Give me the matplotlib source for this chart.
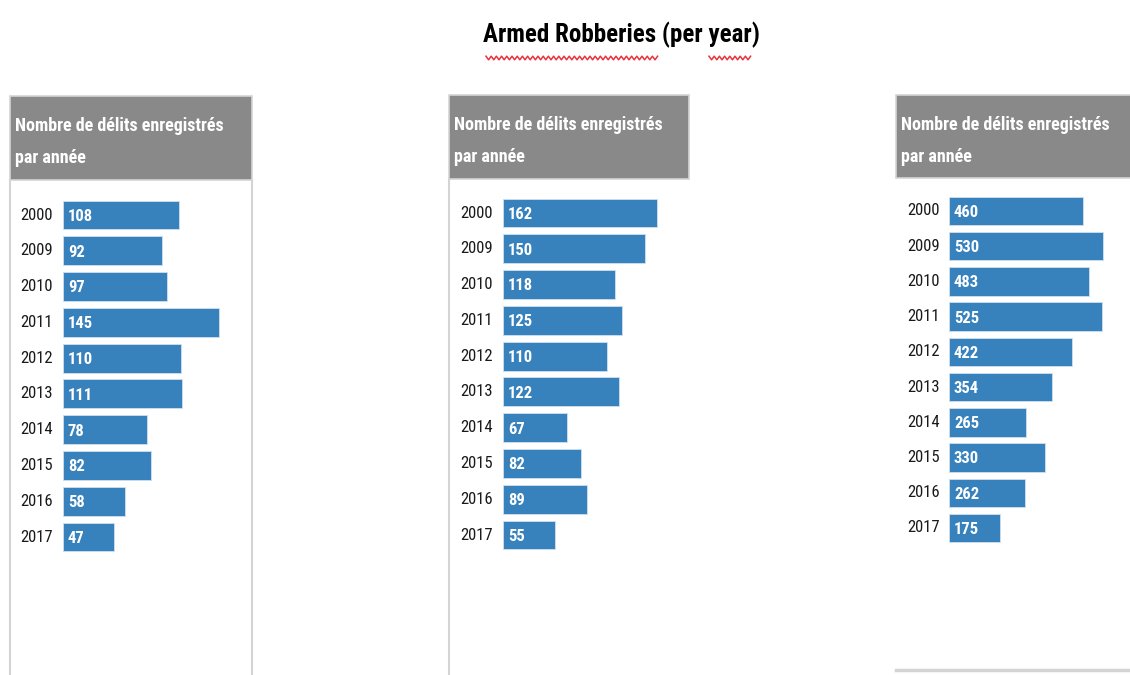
import numpy as np
import matplotlib
matplotlib.use("Agg")
import matplotlib.pyplot as plt
from matplotlib import font_manager
from matplotlib.patches import Rectangle
from matplotlib.lines import Line2D

# ---- data -------------------------------------------------------------
years = ["2000", "2009", "2010", "2011", "2012", "2013", "2014", "2015", "2016", "2017"]
panel_a = [108, 92, 97, 145, 110, 111, 78, 82, 58, 47]
panel_b = [162, 150, 118, 125, 110, 122, 67, 82, 89, 55]
panel_c = [460, 530, 483, 525, 422, 354, 265, 330, 262, 175]

title = "Armed Robberies (per year)"
header = "Nombre de délits enregistrés\npar année"

# ---- fonts ------------------------------------------------------------
names = {f.name for f in font_manager.fontManager.ttflist}
narrow = next((n for n in ["Liberation Sans Narrow", "DejaVu Sans Condensed",
                           "Roboto Condensed", "Liberation Sans"] if n in names),
              "DejaVu Sans")

W, H = 1130, 675
fig = plt.figure(figsize=(W / 100, H / 100), dpi=100)
fig.patch.set_facecolor("white")


def fx(x):
    return x / W


def fy(y):
    return 1 - y / H


BAR = "#3781bd"
HEAD = "#898989"
EDGE = "#d4d4d4"

# ---- title with spell-check squiggle ----------------------------------
fig.text(fx(621), fy(35), title, ha="center", va="center", fontsize=18,
         fontweight="bold", family=[narrow, "DejaVu Sans"], color="black")


def squiggle(x0, x1, y):
    xs = np.arange(x0, x1 + 0.1, 2.6)
    ys = y + np.where(np.arange(len(xs)) % 2 == 0, -1.8, 1.8)
    fig.add_artist(Line2D(fx(xs), fy(ys), color="#e8343c", lw=1.1,
                          transform=fig.transFigure))


squiggle(486, 660, 58)
squiggle(709, 752, 58)


# ---- panels -----------------------------------------------------------
def panel(values, left, right, head_top, head_bot, left_border, right_border,
          bottom_line, year_x, bar_x, row0, row_last, px_per_unit):
    # header box
    fig.add_artist(Rectangle((fx(left), fy(head_bot)), fx(right) - fx(left),
                             fy(head_top) - fy(head_bot), facecolor=HEAD,
                             edgecolor=EDGE, lw=1.2, transform=fig.transFigure))
    fig.text(fx(left + 5), fy(head_top + 30), header.split("\n")[0],
             ha="left", va="center", color="white", fontsize=13,
             fontweight="bold", family=[narrow, "DejaVu Sans"])
    fig.text(fx(left + 5), fy(head_top + 62), header.split("\n")[1],
             ha="left", va="center", color="white", fontsize=13,
             fontweight="bold", family=[narrow, "DejaVu Sans"])
    if left_border:
        fig.add_artist(Line2D([fx(left), fx(left)], [fy(head_bot), 0],
                              color=EDGE, lw=1.5, transform=fig.transFigure))
    if right_border:
        fig.add_artist(Line2D([fx(right), fx(right)], [fy(head_bot), 0],
                              color=EDGE, lw=1.5, transform=fig.transFigure))
    if bottom_line:
        fig.add_artist(Line2D([fx(left), 1], [fy(670), fy(670)],
                              color=EDGE, lw=2.5, transform=fig.transFigure))

    n = len(values)
    step = (row_last - row0) / (n - 1)
    top = row0 - step / 2
    bot = row_last + step / 2
    width_px = 200
    ax = fig.add_axes([fx(bar_x), fy(bot), width_px / W, (bot - top) / H])
    ax.set_xlim(0, width_px / px_per_unit)
    ax.set_ylim(n - 0.5, -0.5)
    ax.axis("off")
    pos = np.arange(n)
    ax.barh(pos, values, height=0.81, color=BAR, edgecolor="#cfe0ef", lw=0.6)
    for i, (yr, v) in enumerate(zip(years, values)):
        ax.text(5 / px_per_unit, i + 0.04, str(v), ha="left", va="center",
                color="white", fontsize=12, fontweight="bold",
                family=[narrow, "DejaVu Sans"])
        fig.text(fx(year_x), fy(row0 + i * step), yr, ha="left", va="center",
                 color="#1a1a1a", fontsize=12, family=[narrow, "DejaVu Sans"])


panel(panel_a, 10, 252, 96, 180, True, True, False, 20, 63, 215, 537, 1.075)
panel(panel_b, 449, 689, 95, 179, True, False, False, 460, 503, 213, 535, 0.948)
panel(panel_c, 896, 1135, 95, 178, False, False, True, 907, 949, 211, 528, 0.2905)

fig.savefig("out.png", dpi=100, facecolor="white")
